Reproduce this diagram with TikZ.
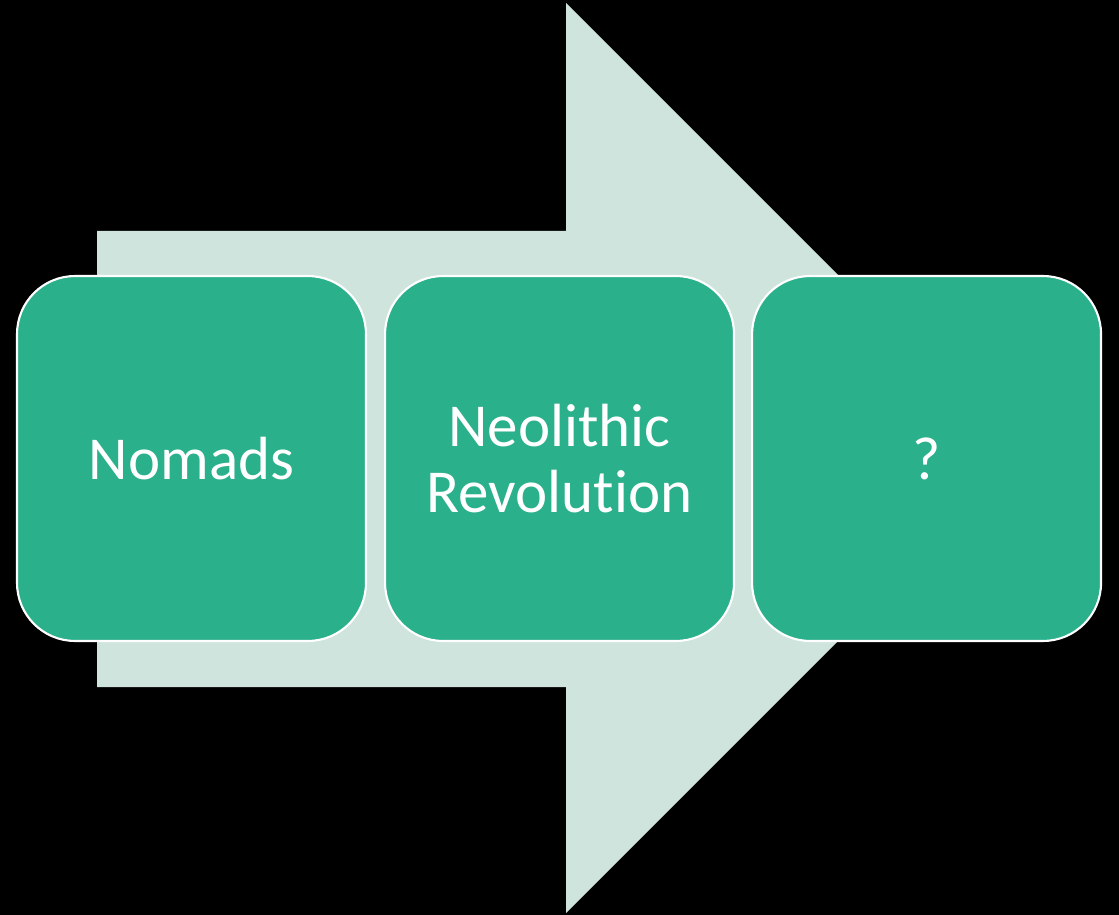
\documentclass[tikz,border=0pt]{standalone}
\usepackage{fontspec}
\setmainfont{Carlito}[Ligatures=NoCommon]
\usepackage{tikz}
\usetikzlibrary{positioning}

\definecolor{stagegreen}{RGB}{43,176,140}
\definecolor{arrowmint}{RGB}{207,228,221}

\tikzset{
  stage/.style={draw=white, line width=1.2pt, fill=stagegreen, rounded corners=1.16cm,
    minimum width=6.98cm, minimum height=7.3cm, inner sep=0pt, align=center,
    text=white, font=\fontsize{34.7}{38}\selectfont}
}

\begin{document}
\begin{tikzpicture}[x=0.02cm, y=-0.02cm]
  % background
  \fill[black] (0,0) rectangle (1119,915);
  \useasboundingbox (0,0) rectangle (1119,915);
  % define the coordinates of the big arrow
  \coordinate (T1) at (97,231);
  \coordinate (T2) at (566,231);
  \coordinate (T3) at (566,3);
  \coordinate (Tip) at (1021,458);
  \coordinate (B3) at (566,913);
  \coordinate (B2) at (566,687);
  \coordinate (B1) at (97,687);
  % draw the arrow
  \fill[arrowmint] (T1) -- (T2) -- (T3) -- (Tip) -- (B3) -- (B2) -- (B1) -- cycle;
  % draw the stages
  \node[stage] (nomads) at (191.5,458.5) {Nomads};
  \node[stage, right=0.34cm of nomads] (neolithic) {Neolithic\\Revolution};
  \node[stage, right=0.32cm of neolithic] (unknown) {?};
\end{tikzpicture}
\end{document}
